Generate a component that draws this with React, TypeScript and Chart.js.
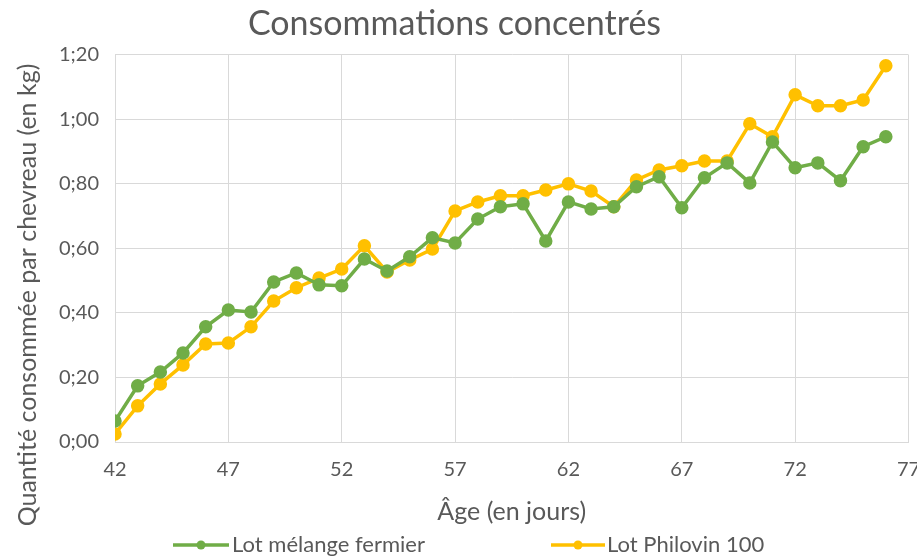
import React, { useEffect, useRef } from "react";
import { Chart, registerables } from "chart.js";

Chart.register(...registerables);

const days = [42,43,44,45,46,47,48,49,50,51,52,53,54,55,56,57,58,59,60,61,62,63,64,65,66,67,68,69,70,71,72,73,74,75,76];
const lotMelange = [0.065,0.174,0.217,0.276,0.357,0.409,0.403,0.496,0.524,0.487,0.484,0.567,0.530,0.574,0.633,0.617,0.691,0.729,0.738,0.623,0.744,0.722,0.729,0.791,0.822,0.726,0.819,0.865,0.803,0.930,0.850,0.865,0.810,0.915,0.946];
const lotPhilovin = [0.025,0.112,0.180,0.239,0.304,0.307,0.357,0.437,0.478,0.508,0.536,0.608,0.527,0.564,0.598,0.716,0.744,0.763,0.763,0.781,0.800,0.778,0.729,0.812,0.843,0.856,0.871,0.871,0.986,0.946,1.076,1.042,1.042,1.060,1.166];
const seriesNames = ["Lot mélange fermier", "Lot Philovin 100"];
const seriesColors = ["#70AD47", "#FFC000"];
const chartTitle = "Consommations concentrés";
const xTitle = "Âge (en jours)";
const yTitle = "Quantité consommée par chevreau (en kg)";

const FONT = "Lato, 'Open Sans', sans-serif";
const TEXT = "#595959";

const annotPlugin = {
  id: "customAnnot",
  afterDraw(chart: any) {
    const ctx = chart.ctx;
    const area = chart.chartArea;
    ctx.save();
    // y-axis title
    ctx.fillStyle = TEXT;
    ctx.font = `25px ${FONT}`;
    ctx.textAlign = "center";
    ctx.textBaseline = "middle";
    ctx.translate(28, 295);
    ctx.rotate(-Math.PI / 2);
    ctx.fillText(yTitle, 0, 0);
    ctx.setTransform(1, 0, 0, 1, 0, 0);
    // x-axis title
    ctx.fillText(xTitle, (area.left + area.right) / 2, 512);
    // legend
    const y = 545;
    const items = [
      { x0: 173, x1: 229, tx: 232 },
      { x0: 551, x1: 605, tx: 607 },
    ];
    items.forEach((it, i) => {
      ctx.strokeStyle = seriesColors[i];
      ctx.fillStyle = seriesColors[i];
      ctx.lineWidth = 3.5;
      ctx.beginPath();
      ctx.moveTo(it.x0, y);
      ctx.lineTo(it.x1, y);
      ctx.stroke();
      ctx.beginPath();
      ctx.arc((it.x0 + it.x1) / 2, y, 4.5, 0, Math.PI * 2);
      ctx.fill();
      ctx.fillStyle = TEXT;
      ctx.font = `22px ${FONT}`;
      ctx.textBaseline = "middle";
      ctx.textAlign = "left";
      ctx.fillText(seriesNames[i], it.tx, y);
    });
    ctx.restore();
  },
};

export default function App() {
  const ref = useRef<HTMLCanvasElement | null>(null);
  useEffect(() => {
    document.body.style.margin = "0";
    const c = ref.current!;
    const chart = new Chart(c, {
      type: "line",
      data: {
        datasets: [
          {
            label: seriesNames[0],
            data: days.map((d, i) => ({ x: d, y: lotMelange[i] })),
            borderColor: seriesColors[0],
            backgroundColor: seriesColors[0],
            borderWidth: 3.5,
            pointRadius: 5,
            pointHoverRadius: 5,
            tension: 0,
          },
          {
            label: seriesNames[1],
            data: days.map((d, i) => ({ x: d, y: lotPhilovin[i] })),
            borderColor: seriesColors[1],
            backgroundColor: seriesColors[1],
            borderWidth: 3.5,
            pointRadius: 5,
            pointHoverRadius: 5,
            tension: 0,
          },
        ],
      },
      options: {
        animation: false,
        responsive: false,
        maintainAspectRatio: false,
        layout: { padding: { left: 0, right: 8, top: 0, bottom: 0 } },
        plugins: {
          legend: { display: false },
          tooltip: { enabled: false },
          title: {
            display: true,
            text: chartTitle,
            color: TEXT,
            font: { family: FONT, size: 34, weight: "normal" },
            padding: { top: 4, bottom: 10 },
          },
        },
        scales: {
          x: {
            type: "linear",
            min: 42,
            max: 77,
            ticks: { stepSize: 5, color: TEXT, font: { family: FONT, size: 20 }, padding: 16 },
            grid: { color: "#d9d9d9", lineWidth: 1, drawTicks: false },
            border: { color: "#d9d9d9" },
            afterFit: (s: any) => {
              s.height = 117;
              s.paddingLeft = 0;
              s.paddingRight = 0;
            },
          },
          y: {
            min: 0,
            max: 1.2,
            ticks: {
              stepSize: 0.2,
              color: TEXT,
              font: { family: FONT, size: 20 },
              padding: 16,
              callback: (v: any) => Number(v).toFixed(2).replace(".", ";"),
            },
            grid: { color: "#d9d9d9", lineWidth: 1, drawTicks: false },
            border: { color: "#d9d9d9" },
            afterFit: (s: any) => {
              s.width = 115;
            },
          },
        },
      },
      plugins: [annotPlugin],
    });
    return () => chart.destroy();
  }, []);
  return (
    <div style={{ position: "absolute", left: 0, top: 0, width: 917, height: 559, background: "#fff" }}>
      <canvas ref={ref} width={917} height={559} style={{ width: 917, height: 559 }} />
    </div>
  );
}
